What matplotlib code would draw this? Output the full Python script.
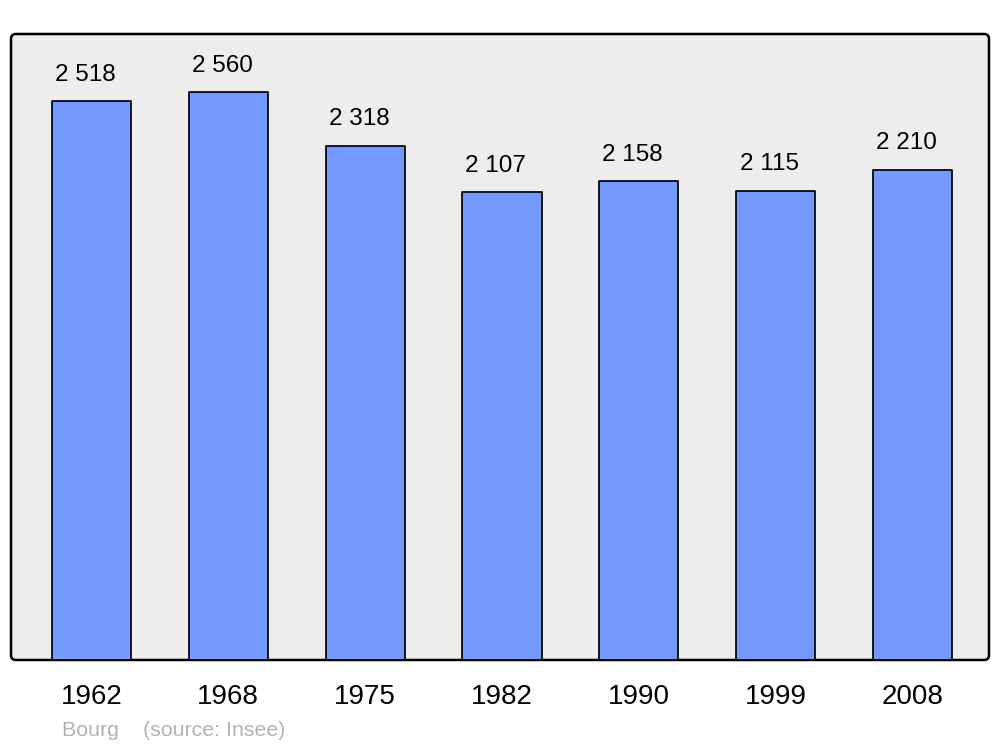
import matplotlib.pyplot as plt
from matplotlib.patches import FancyBboxPatch

years = ["1962", "1968", "1975", "1982", "1990", "1999", "2008"]
population = [2518, 2560, 2318, 2107, 2158, 2115, 2210]
labels = ["2 518", "2 560", "2 318", "2 107", "2 158", "2 115", "2 210"]

plt.rcParams['font.family'] = ['Liberation Sans', 'DejaVu Sans']

fig = plt.figure(figsize=(10, 7.47), dpi=100)
ax = fig.add_axes([0.011, 0.1165, 0.978, 0.838])
ax.set_facecolor('none')

# rounded frame like the original
frame = FancyBboxPatch((0, 0), 1, 1, boxstyle="round,pad=0,rounding_size=0.005",
                       mutation_aspect=978 / 626, transform=ax.transAxes,
                       facecolor='#ededed', edgecolor='black', linewidth=1.8,
                       clip_on=False, zorder=0)
ax.add_patch(frame)

x = list(range(len(years)))
ax.bar(x, population, width=0.578, color='#7399ff', edgecolor='black',
       linewidth=1.25, joinstyle='round', zorder=2)

for i, (v, lab) in enumerate(zip(population, labels)):
	ax.annotate(lab, (i - 0.045, v), xytext=(0, 19), textcoords='offset points',
	            ha='center', va='center', fontsize=17.5)

ax.set_xlim(-0.588, 6.559)
ax.set_ylim(0, 2821)
ax.set_xticks(x)
ax.set_xticklabels(years, fontsize=20)
ax.tick_params(axis='x', length=0, pad=17.5)
ax.set_yticks([])
for s in ax.spines.values():
	s.set_visible(False)

fig.text(0.062, 1 - 731 / 747, "Bourg    (source: Insee)", fontsize=15.4,
         color='#b3b3b3', va='center', ha='left')

fig.savefig('out.png', dpi=100)
